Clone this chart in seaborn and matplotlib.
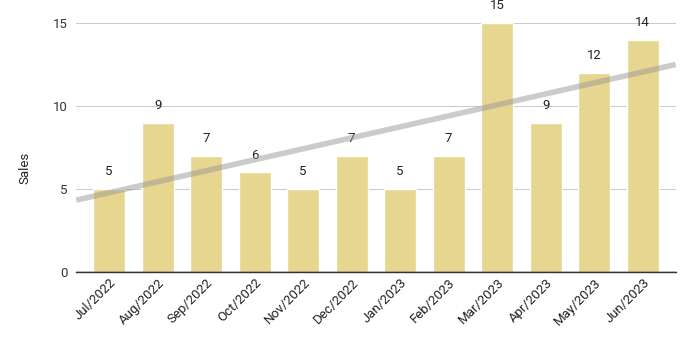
import matplotlib
matplotlib.use("Agg")
import matplotlib.pyplot as plt
import seaborn as sns
import numpy as np
import pandas as pd

months = ["Jul/2022", "Aug/2022", "Sep/2022", "Oct/2022", "Nov/2022", "Dec/2022",
          "Jan/2023", "Feb/2023", "Mar/2023", "Apr/2023", "May/2023", "Jun/2023"]
sales = [5, 9, 7, 6, 5, 7, 5, 7, 15, 9, 12, 14]
yticks = [0, 5, 10, 15]

sns.set_theme(style="white")
plt.rcParams['font.family'] = ['Roboto', 'DejaVu Sans']

df = pd.DataFrame({"Month": months, "Sales": sales})
fig = plt.figure(figsize=(6.93, 3.38), dpi=100)
ax = fig.add_axes([0.110, 0.195, 0.865, 0.737])

for y in yticks[1:]:
    ax.axhline(y, color="#cccccc", lw=0.8, zorder=0)

sns.barplot(data=df, x="Month", y="Sales", color="#e6d68f", saturation=1,
            width=0.66, ax=ax, zorder=2)

for i, v in enumerate(sales):
    ax.text(i, v + 1.05, str(v), ha="center", va="center", fontsize=9.5,
            color="#222222", clip_on=False)

x = np.arange(len(sales))
m, b = np.polyfit(x, sales, 1)
xs = np.array([-0.68, len(sales) - 0.32])
ax.plot(xs, m * xs + b, color="#999999", alpha=0.5, lw=4, zorder=3,
        solid_capstyle="butt")

ax.set_xlim(-0.68, len(sales) - 0.32)
ax.set_ylim(0, 15)
ax.set_yticks(yticks)
ax.set_yticklabels([str(t) for t in yticks], fontsize=9.5, color="#333333")
ax.tick_params(axis="y", length=0, pad=6)
ax.tick_params(axis="x", length=0, pad=3)
plt.setp(ax.get_xticklabels(), rotation=45, ha="right", rotation_mode="anchor",
         fontsize=9.5, color="#222222")
ax.set_xlabel("")
ax.set_ylabel("Sales", fontsize=9.5, color="#222222")
ax.yaxis.set_label_coords(-0.074, 0.418)
for s in ["top", "right", "left"]:
    ax.spines[s].set_visible(False)
ax.spines["bottom"].set_color("#333333")
ax.spines["bottom"].set_linewidth(1)
ax.axhline(0, color="#333333", lw=1, zorder=4)

fig.savefig("out.png", dpi=100)
